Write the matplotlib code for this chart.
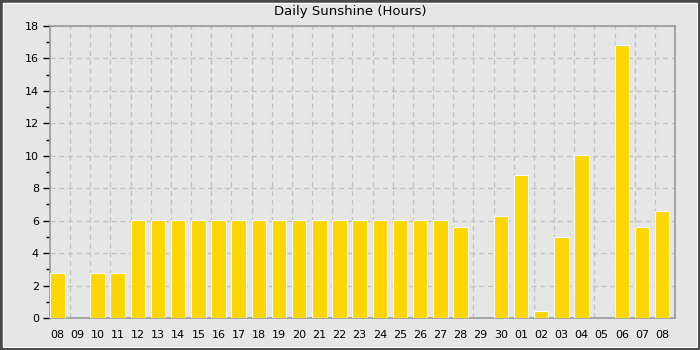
import matplotlib
matplotlib.use("Agg")
import matplotlib.pyplot as plt
from matplotlib.patches import Rectangle
from matplotlib.ticker import MultipleLocator, FixedLocator
import numpy as np

days = ["08", "09", "10", "11", "12", "13", "14", "15", "16", "17", "18", "19",
        "20", "21", "22", "23", "24", "25", "26", "27", "28", "29", "30", "01",
        "02", "03", "04", "05", "06", "07", "08"]
sunshine = [2.75, 0, 2.75, 2.75, 6.06, 6.06, 6.06, 6.06, 6.06, 6.06, 6.06, 6.06,
            6.06, 6.06, 6.06, 6.06, 6.06, 6.06, 6.06, 6.06, 5.6, 0, 6.27, 8.8,
            0.45, 4.97, 10.05, 0, 16.8, 5.6, 6.6]
title = "Daily Sunshine (Hours)"

bg = "#e6e6e6"
fig = plt.figure(figsize=(7, 3.5), dpi=100, facecolor=bg)
fig.patches.append(Rectangle((0, 0), 1, 1, transform=fig.transFigure,
                             facecolor="none", edgecolor="#4a4a4a", linewidth=4, zorder=10))
fig.patches.append(Rectangle((0.0045, 0.009), 0.9915, 0.983, transform=fig.transFigure,
                             facecolor="none", edgecolor="white", linewidth=0.8, zorder=10))

ax = fig.add_axes([50 / 700, 32 / 350, 625 / 700, 292 / 350])
ax.set_facecolor(bg)

x = np.arange(len(days))
vals = np.array(sunshine)
nz = vals > 0
ax.bar(x[nz], vals[nz], width=0.72, align="edge", color="#FFD700",
       edgecolor="#f4f8ff", linewidth=0.8, zorder=3)

ax.set_xlim(0, len(days))
ax.set_ylim(0, 18)

ax.xaxis.set_major_locator(FixedLocator(x + 0.36))
ax.set_xticklabels(days)
ax.xaxis.set_minor_locator(FixedLocator(np.arange(1, len(days))))
ax.tick_params(axis="x", which="both", length=0, pad=9, labelsize=8, colors="black")

ax.yaxis.set_major_locator(MultipleLocator(2))
ax.yaxis.set_minor_locator(MultipleLocator(1))
ax.tick_params(axis="y", which="major", length=5, width=1, color="black", labelsize=8, pad=3)
ax.tick_params(axis="y", which="minor", length=3, width=1, color="black")

ax.grid(axis="y", which="major", linestyle=(0, (4, 3)), color="#c0c0c0", linewidth=0.9, zorder=1)
ax.grid(axis="x", which="minor", linestyle=(0, (4, 3)), color="#c0c0c0", linewidth=0.9, zorder=1)
ax.set_axisbelow(True)

for s in ax.spines.values():
    s.set_color("#999999")
    s.set_linewidth(1.2)

fig.text(0.5, 1 - 12 / 350, title, ha="center", va="center", fontsize=9.5)

fig.savefig("out.png", dpi=100, facecolor=bg)
